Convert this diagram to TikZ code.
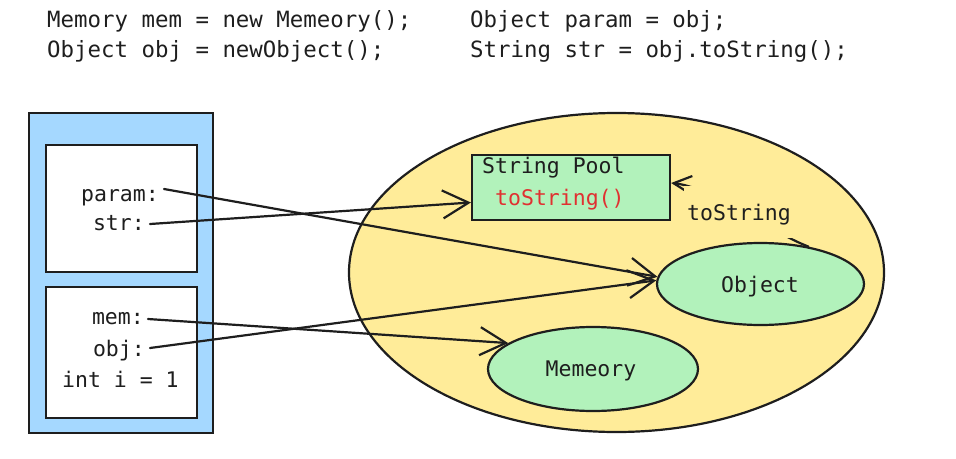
\documentclass[tikz,border=0pt]{standalone}
\usepackage{fontspec}
\setmonofont{DejaVu Sans Mono}
\usetikzlibrary{arrows.meta,shapes.geometric}
\definecolor{ink}{HTML}{1E1E1E}
\definecolor{stackblue}{HTML}{A5D8FF}
\definecolor{heapyellow}{HTML}{FFEC99}
\definecolor{objgreen}{HTML}{B2F2BB}
\definecolor{codered}{HTML}{E03131}
\begin{document}
\begin{tikzpicture}[x=1pt,y=-1pt,
  code/.style={font=\fontsize{22.4}{26}\selectfont\ttfamily, text=ink, inner sep=0pt, anchor=base west},
  lbl/.style={font=\fontsize{21.5}{26}\selectfont\ttfamily, text=ink, inner sep=0pt},
  frame/.style={draw=ink, line width=2.2pt},
  ref/.style={draw=ink, line width=2.2pt, line cap=round, line join=round,
    -{Straight Barb[length=26pt,width=28pt,line width=2.2pt]}},
  smallref/.style={draw=ink, line width=2.2pt, line cap=round, line join=round,
    -{Straight Barb[length=18pt,width=18pt,line width=2.2pt]}},
]
\path[use as bounding box] (0,0) rectangle (956,458);

% code header
\node[code] (c1) at (47,27) {Memory mem = new Memeory();};
\node[code] (c2) at (47,57) {Object obj = newObject();};
\node[code] (c3) at (470,27) {Object param = obj;};
\node[code] (c4) at (470,57) {String str = obj.toString();};

% stack
\node[frame, fill=stackblue, rectangle, minimum width=184pt, minimum height=320pt, inner sep=0pt] (stack) at (121,273) {};
\node[frame, fill=white, rectangle, minimum width=151pt, minimum height=127pt, inner sep=0pt] (frameA) at (121.5,208.5) {};
\node[frame, fill=white, rectangle, minimum width=151pt, minimum height=131pt, inner sep=0pt] (frameB) at (121.5,352.5) {};

\node[lbl, anchor=base east] (param) at (159,201) {param:};
\node[lbl, anchor=base east] (str) at (145,230) {str:};
\node[lbl, anchor=base east] (mem) at (144,324) {mem:};
\node[lbl, anchor=base east] (obj) at (145,356) {obj:};
\node[lbl, anchor=base west] (inti) at (62,387) {int i = 1};

% heap
\node[ellipse, frame, fill=heapyellow, minimum width=535pt, minimum height=319pt, inner sep=0pt] (heap) at (616.5,272.5) {};
\node[rectangle, frame, fill=objgreen, minimum width=198pt, minimum height=65pt, inner sep=0pt] (pool) at (571,187.5) {};
\node[lbl, anchor=base west] (pooltitle) at (482,173) {String Pool};
\node[lbl, anchor=base west, text=codered] (poolts) at (495,205) {toString()};
\node[ellipse, frame, fill=objgreen, minimum width=207pt, minimum height=82pt, inner sep=0pt] (objn) at (760.5,284) {};
\node[lbl, anchor=base] (objt) at (760,292) {Object};
\node[ellipse, frame, fill=objgreen, minimum width=210pt, minimum height=84pt, inner sep=0pt] (memn) at (593,369) {};
\node[lbl, anchor=base] (memt) at (591,376) {Memeory};

% toString arrow (label hides its middle)
\draw[smallref] (objn.38) .. controls (770,232) and (712,187) .. ([yshift=4.5pt]pool.east);
\node[rectangle, fill=heapyellow, minimum width=112pt, minimum height=52pt, inner sep=0pt] (tsbox) at (740,212) {};
\node[lbl, anchor=base] (tslabel) at (739,220) {toString};

% references
\draw[ref] ([xshift=5pt,yshift=12pt]param.base east) -- (objn.176.5);
\draw[ref] ([xshift=5pt,yshift=6pt]str.base east) -- ([yshift=-15pt]pool.west);
\draw[ref] ([xshift=4pt,yshift=5pt]mem.base east) -- (memn.163);
\draw[ref] ([xshift=5pt,yshift=8pt]obj.base east) -- (objn.178.5);
\end{tikzpicture}
\end{document}
